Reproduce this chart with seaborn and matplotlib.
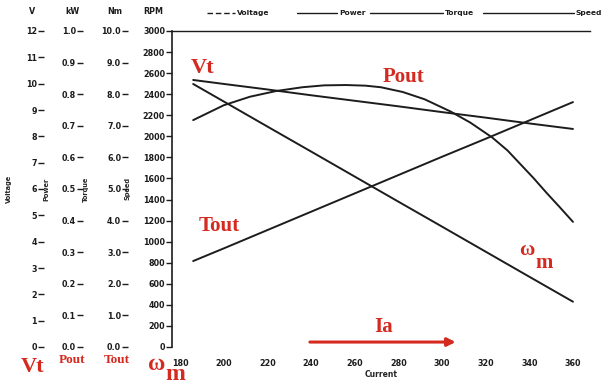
import numpy as np
import pandas as pd
import matplotlib
matplotlib.use("Agg")
import matplotlib.pyplot as plt
import seaborn as sns
from matplotlib.lines import Line2D

# values
current = [186, 200, 220, 240, 260, 280, 300, 320, 340, 360]
voltage = [10.14, 9.99, 9.78, 9.56, 9.35, 9.14, 8.92, 8.71, 8.49, 8.28]
torque = [2.72, 3.12, 3.70, 4.28, 4.86, 5.44, 6.02, 6.59, 7.17, 7.75]
speed = [2497, 2331, 2093, 1856, 1618, 1380, 1143, 905, 667, 430]

# power curve was read at its own, denser set of currents
power_current = [186, 200, 212, 224, 236, 246, 256, 265, 272, 282, 292, 304, 313, 323, 330, 336, 342, 348, 354, 360]
power = [0.718, 0.765, 0.792, 0.810, 0.822, 0.828, 0.829, 0.827, 0.822, 0.807, 0.784, 0.745, 0.710, 0.663, 0.622, 0.578, 0.534, 0.487, 0.442, 0.396]

x_ticks = [180, 200, 220, 240, 260, 280, 300, 320, 340, 360]
speed_ticks = list(range(0, 3001, 200))
volt_ticks = list(range(0, 13))
power_ticks = [i / 10 for i in range(0, 11)]
torque_ticks = [float(i) for i in range(0, 11)]

df = pd.DataFrame({"Current": current, "Voltage": voltage,
                   "Torque": torque, "Speed": speed})
df_power = pd.DataFrame({"Current": power_current, "Power": power})

sns.set_style("white")
plt.rcParams["font.family"] = ["DejaVu Sans"]

INK = "#1c1c1c"
RED = "#d42a20"

fig = plt.figure(figsize=(6.02, 3.83), dpi=100)
ax = fig.add_axes([172 / 602, 36 / 383, 418 / 602, 316 / 383])

# speed on the main axis
sns.lineplot(data=df, x="Current", y="Speed", ax=ax, color=INK, lw=1.4)
ax.set_xlim(176.3, 367.8)
ax.set_ylim(0, 3000)
ax.set_yticks(speed_ticks)
ax.set_xticks(x_ticks)
for s in ["right", "bottom"]:
    ax.spines[s].set_visible(False)
ax.spines["left"].set_color(INK)
ax.spines["top"].set_color(INK)
ax.spines["left"].set_linewidth(1.2)
ax.spines["top"].set_linewidth(1.0)
ax.spines["bottom"].set_position(("outward", 3))
ax.tick_params(axis="y", direction="out", length=4, width=1, pad=1, colors=INK)
ax.tick_params(axis="x", direction="out", length=3, width=1, pad=3, colors=INK)
ax.set_xlabel("Current", fontsize=5.5, fontweight="bold", labelpad=1)
ax.set_ylabel("Speed", fontsize=4.8, fontweight="bold")
ax.yaxis.set_label_coords(-0.1, 0.50)


def side_axis(data, col, lim, ticks, fmt, offset, label, lab_x):
    tw = ax.twinx()
    sns.lineplot(data=data, x="Current", y=col, ax=tw, color=INK, lw=1.4)
    tw.set_ylim(*lim)
    tw.set_yticks(ticks)
    tw.set_yticklabels([fmt.format(t) for t in ticks])
    tw.yaxis.set_ticks_position("left")
    tw.yaxis.set_label_position("left")
    tw.spines["left"].set_position(("axes", offset))
    for s in tw.spines.values():
        s.set_visible(False)
    tw.tick_params(axis="y", direction="out", length=4, width=1, pad=1, colors=INK)
    tw.set_ylabel(label, fontsize=4.8, fontweight="bold")
    tw.yaxis.set_label_coords(lab_x, 0.50)
    return tw


side_axis(df, "Voltage", (0, 12), volt_ticks, "{:d}", -0.306, "Voltage", -0.384)
side_axis(df_power, "Power", (0, 1.0), power_ticks, "{:.1f}", -0.213, "Power", -0.293)
side_axis(df, "Torque", (0, 10), torque_ticks, "{:.1f}", -0.105, "Torque", -0.20)
ax.set_xlim(176.3, 367.8)

for a in fig.axes:
    a.tick_params(labelsize=5.8)
    for lab in a.get_xticklabels() + a.get_yticklabels():
        lab.set_fontweight("bold")

# unit headers
for txt, px in [("V", 32), ("kW", 73), ("Nm", 115), ("RPM", 153)]:
    fig.text(px / 602, 1 - 12 / 383, txt, ha="center", va="center",
             fontsize=5.8, fontweight="bold", color=INK)

# legend drawn across the top
ly = 1 - 13 / 383
legend_items = [("Voltage", 207, 235, (0, (4, 2))), ("Power", 297, 337, "-"),
                ("Torque", 370, 443, "-"), ("Speed", 483, 574, "-")]
for name, x0, x1, ls in legend_items:
    fig.add_artist(Line2D([x0 / 602, x1 / 602], [ly, ly], transform=fig.transFigure,
                          color=INK, lw=1.0, ls=ls))
    fig.text((x1 + 2) / 602, ly, name, ha="left", va="center", fontsize=5.4,
             fontweight="bold", color=INK)

# red annotations
SERIF = dict(family=["Liberation Serif", "DejaVu Serif"], fontweight="bold", color=RED)
ax.text(190.3, 2649, "Vt", ha="center", va="center", fontsize=16, **SERIF)
ax.text(282.2, 2563, "Pout", ha="center", va="center", fontsize=15, **SERIF)
ax.text(197.9, 1149, "Tout", ha="center", va="center", fontsize=15, **SERIF)
ax.text(339.0, 921, "\u03c9", ha="center", va="center", fontsize=15, **SERIF)
ax.text(346.7, 800, "m", ha="center", va="center", fontsize=15, **SERIF)
ax.text(273.0, 190, "Ia", ha="center", va="center", fontsize=15, **SERIF)
ax.annotate("", xy=(307.5, 47), xytext=(238.2, 47),
            arrowprops=dict(arrowstyle="-|>", color=RED, lw=2.2, mutation_scale=12),
            annotation_clip=False)

fig.text(33 / 602, 1 - 367 / 383, "Vt", ha="center", va="center", fontsize=16, **SERIF)
fig.text(72 / 602, 1 - 360 / 383, "Pout", ha="center", va="center", fontsize=9.5, **SERIF)
fig.text(117 / 602, 1 - 360 / 383, "Tout", ha="center", va="center", fontsize=9.5, **SERIF)
fig.text(157 / 602, 1 - 364 / 383, "\u03c9", ha="center", va="center", fontsize=17, **SERIF)
fig.text(175 / 602, 1 - 374 / 383, "m", ha="center", va="center", fontsize=17, **SERIF)

fig.savefig("out.png", dpi=100)
